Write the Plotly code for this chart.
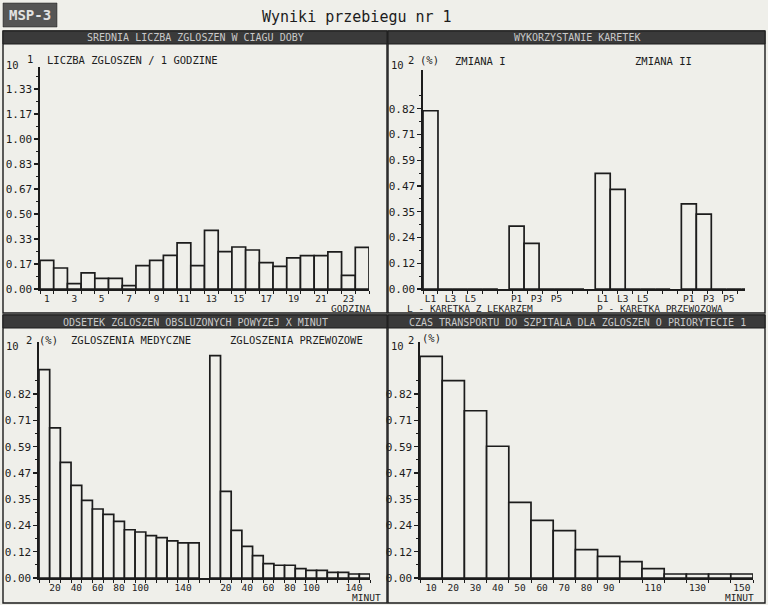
import plotly.graph_objects as go

W, H = 768, 605
def px(x): return x / W
def py(y): return 1 - y / H

# ---------------- data ----------------
hours = list(range(1, 25))
calls_per_hour = [0.191, 0.140, 0.036, 0.107, 0.071, 0.071, 0.022, 0.156,
                  0.191, 0.224, 0.307, 0.156, 0.391, 0.249, 0.280, 0.260,
                  0.176, 0.151, 0.207, 0.222, 0.222, 0.247, 0.091, 0.278]
hour_tick_labels = ["1", "3", "5", "7", "9", "11", "13", "15", "17", "19", "21", "23"]

ambulances = ["L1", "L2", "L3", "L4", "L5", "P1", "P2", "P3", "P4", "P5"]
util_shift1 = [0.814, 0, 0, 0, 0, 0.287, 0.208, 0, 0, 0]
util_shift2 = [0.528, 0.455, 0, 0, 0, 0.389, 0.342, 0, 0, 0]
amb_tick_labels = ["L1", "L3", "L5", "P1", "P3", "P5"]

wait_bins = [10, 20, 30, 40, 50, 60, 70, 80, 90, 100, 110, 120, 130, 140, 150]
over_x_medical = [0.933, 0.672, 0.518, 0.415, 0.348, 0.309, 0.285, 0.254,
                  0.216, 0.206, 0.190, 0.181, 0.166, 0.157, 0.157]
over_x_transport = [0.996, 0.388, 0.213, 0.142, 0.100, 0.064, 0.057, 0.057,
                    0.042, 0.034, 0.034, 0.025, 0.025, 0.018, 0.018]
wait_tick_labels = ["20", "40", "60", "80", "100", "140"]

transport_bins = [10, 20, 30, 40, 50, 60, 70, 80, 90, 100, 110, 120, 130, 140, 150]
transport_time = [0.993, 0.884, 0.749, 0.590, 0.339, 0.258, 0.212, 0.127,
                  0.097, 0.073, 0.042, 0.018, 0.018, 0.018, 0.018]
transport_tick_labels = ["10", "20", "30", "40", "50", "60", "70", "80", "90", "110", "130", "150"]

# ---------------- style ----------------
INK = "#1c1c1c"
PAPER = "#efefea"
BANNER = "#3a3a3a"
FONT = "DejaVu Sans Mono"
FS = 10.5
bar_style = dict(marker=dict(color=PAPER, line=dict(color=INK, width=1.7)), width=1)

fig = go.Figure()

# panel 1 : calls per hour
fig.add_trace(go.Bar(x=hours, y=calls_per_hour, xaxis="x", yaxis="y", **bar_style))

# panel 2 : ambulance utilisation
SHIFT_OFF, GROUP_OFF = 11.5, 5.75
amb_x, amb_y = [], []
for s, vals in enumerate([util_shift1, util_shift2]):
    for j, v in enumerate(vals):
        g, i = divmod(j, 5)
        amb_x.append(s * SHIFT_OFF + g * GROUP_OFF + i + 0.5)
        amb_y.append(v)
fig.add_trace(go.Bar(x=amb_x, y=amb_y, xaxis="x2", yaxis="y2", **bar_style))
amb_tickvals, amb_ticktext = [], []
for s in range(2):
    for lab in amb_tick_labels:
        g = 0 if lab[0] == "L" else 1
        i = int(lab[1]) - 1
        amb_tickvals.append(s * SHIFT_OFF + g * GROUP_OFF + 0.5 + i * (2 / 3))
        amb_ticktext.append(lab)

# panel 3 : share of calls served after more than X minutes
n = len(wait_bins)
med_x = [k + 0.5 for k in range(n)]
tra_x = [n + 1 + k + 0.5 for k in range(n)]
fig.add_trace(go.Bar(x=med_x, y=over_x_medical, xaxis="x3", yaxis="y3", **bar_style))
fig.add_trace(go.Bar(x=tra_x, y=over_x_transport, xaxis="x3", yaxis="y3", **bar_style))
wait_tickvals, wait_ticktext = [], []
for base in (0, n + 1):
    for lab in wait_tick_labels:
        k = wait_bins.index(int(lab))
        wait_tickvals.append(base + k + 0.5)
        wait_ticktext.append(lab)

# panel 4 : transport time to hospital
tr_x = [k + 0.5 for k in range(len(transport_bins))]
fig.add_trace(go.Bar(x=tr_x, y=transport_time, xaxis="x4", yaxis="y4", **bar_style))
tr_tickvals = [transport_bins.index(int(l)) + 0.5 for l in transport_tick_labels]

# ---------------- axes ----------------
xtickfont = dict(family=FONT, size=9.5, color=INK)
ytickfont = dict(family=FONT, size=11, color=INK)

def xax(d0, d1, rng, tickvals, ticktext, minor_vals, anchor):
    return dict(domain=[px(d0), px(d1)], range=rng, anchor=anchor, automargin=False,
                showline=True, linecolor=INK, linewidth=2, showgrid=False,
                zeroline=False, tickvals=tickvals, ticktext=ticktext,
                ticks="", tickfont=xtickfont, fixedrange=True, ticklabelstandoff=0,
                minor=dict(tickvals=minor_vals, ticks="outside", ticklen=3,
                           tickcolor=INK, tickwidth=1, showgrid=False))

def yax(top, zero, rng, step, nlab, anchor):
    vals = [k * step for k in range(nlab)]
    return dict(domain=[py(zero), py(top)], range=rng, anchor=anchor, automargin=False,
                showline=True, linecolor=INK, linewidth=1.6, showgrid=False,
                zeroline=False, tickvals=vals, ticktext=[f"{v:.2f}" for v in vals],
                ticks="outside", ticklen=4, tickwidth=1.3, tickcolor=INK,
                tickfont=ytickfont, fixedrange=True,
                minor=dict(tickvals=[(k + 0.5) * step for k in range(nlab)],
                           ticks="outside", ticklen=2, tickcolor=INK, tickwidth=1,
                           showgrid=False))

fig.update_layout(
    width=W, height=H, margin=dict(l=0, r=0, t=0, b=0, autoexpand=False),
    paper_bgcolor=PAPER, plot_bgcolor="rgba(0,0,0,0)",
    showlegend=False, bargap=0, barmode="overlay",
    xaxis=xax(40, 369, [0.5, 24.5], hours[::2], hour_tick_labels,
              [h + 0.5 for h in range(0, 25)], "y"),
    yaxis=yax(67, 289, [0, 1.48], 1 / 6, 9, "x"),
    xaxis2=xax(423, 745, [0, 21.5], amb_tickvals, amb_ticktext,
               [k * 1.0 for k in range(22)], "y2"),
    yaxis2=yax(70, 289, [0, 1.0], 1 / 8.5, 8, "x2"),
    xaxis3=xax(39, 370, [0, 2 * n + 1], wait_tickvals, wait_ticktext,
               [k for k in range(2 * n + 2)], "y3"),
    yaxis3=yax(342, 578, [0, 1.057], 1 / 8.5, 8, "x3"),
    xaxis4=xax(420, 753, [0, len(transport_bins)], tr_tickvals, transport_tick_labels,
               [k for k in range(len(transport_bins) + 1)], "y4"),
    yaxis4=yax(342, 578, [0, 1.057], 1 / 8.5, 8, "x4"),
)

# ---------------- frame, banners, texts ----------------
shapes = []
def rect(x0, y0, x1, y1, fill=None, lw=1.4):
    shapes.append(dict(type="rect", xref="paper", yref="paper",
                       x0=px(x0), x1=px(x1), y0=py(y1), y1=py(y0),
                       line=dict(color=INK, width=lw),
                       fillcolor=fill if fill else "rgba(0,0,0,0)",
                       layer="below"))

# panel outlines
rect(3, 31, 387, 313)
rect(388, 31, 765, 313)
rect(3, 315, 387, 603)
rect(388, 315, 765, 603)
# banners
for (x0, x1) in [(3, 387), (388, 765)]:
    rect(x0, 31, x1, 44, fill=BANNER, lw=1)
    rect(x0, 315, x1, 328, fill=BANNER, lw=1)
# MSP-3 badge
rect(3, 3, 57, 27, fill="#555555", lw=0.5)
fig.update_layout(shapes=shapes)

ann = []
def text(x, y, s, size=FS, anchor="left", color=INK, weight=None):
    f = dict(family=FONT, size=size, color=color)
    if weight:
        f["weight"] = weight
    ann.append(dict(xref="paper", yref="paper", x=px(x), y=py(y), text=s,
                    showarrow=False, xanchor=anchor, yanchor="middle", font=f))

text(30, 15, "MSP-3", size=14, anchor="center", color="#e2e2e2", weight="bold")
text(357, 17, "Wyniki przebiegu nr 1", size=15, anchor="center")

BT = "#c9c9c9"
text(195, 38, "SREDNIA LICZBA ZGLOSZEN W CIAGU DOBY", size=10, anchor="center", color=BT)
text(577, 38, "WYKORZYSTANIE KARETEK", size=10, anchor="center", color=BT)
text(195, 322, "ODSETEK ZGLOSZEN OBSLUZONYCH POWYZEJ X MINUT", size=10, anchor="center", color=BT)
text(577, 322, "CZAS TRANSPORTU DO SZPITALA DLA ZGLOSZEN O PRIORYTECIE 1", size=10, anchor="center", color=BT)

# panel 1 labels
text(4, 65, "10", anchor="left")
text(25, 59, "1", anchor="left")
text(45, 60, "LICZBA ZGLOSZEN / 1 GODZINE")
text(373, 308.5, "GODZINA", size=9.5, anchor="right")
# panel 2 labels
text(389, 65, "10", anchor="left")
text(406, 60, "2", anchor="left")
text(418, 60, "(%)", anchor="left")
text(480, 61, "ZMIANA I", anchor="center")
text(663, 61, "ZMIANA II", anchor="center")
text(405, 308.5, "L - KARETKA Z LEKARZEM", size=9.5)
text(595, 308.5, "P - KARETKA PRZEWOZOWA", size=9.5)
# panel 3 labels
text(4, 346, "10", anchor="left")
text(24, 340, "2", anchor="left")
text(37, 340, "(%)", anchor="left")
text(69, 340, "ZGLOSZENIA MEDYCZNE")
text(228, 340, "ZGLOSZENIA PRZEWOZOWE")
text(383, 597.5, "MINUT", size=9.5, anchor="right")
# panel 4 labels
text(389, 346, "10", anchor="left")
text(406, 340, "2", anchor="left")
text(420, 338, "(%)", anchor="left")
text(756, 597.5, "MINUT", size=9.5, anchor="right")

fig.update_layout(annotations=ann)
fig.write_html(
    "out.html",
    config={"displayModeBar": False, "staticPlot": True},
    post_script="document.body.style.margin='0';document.body.style.background='%s';" % PAPER,
)
